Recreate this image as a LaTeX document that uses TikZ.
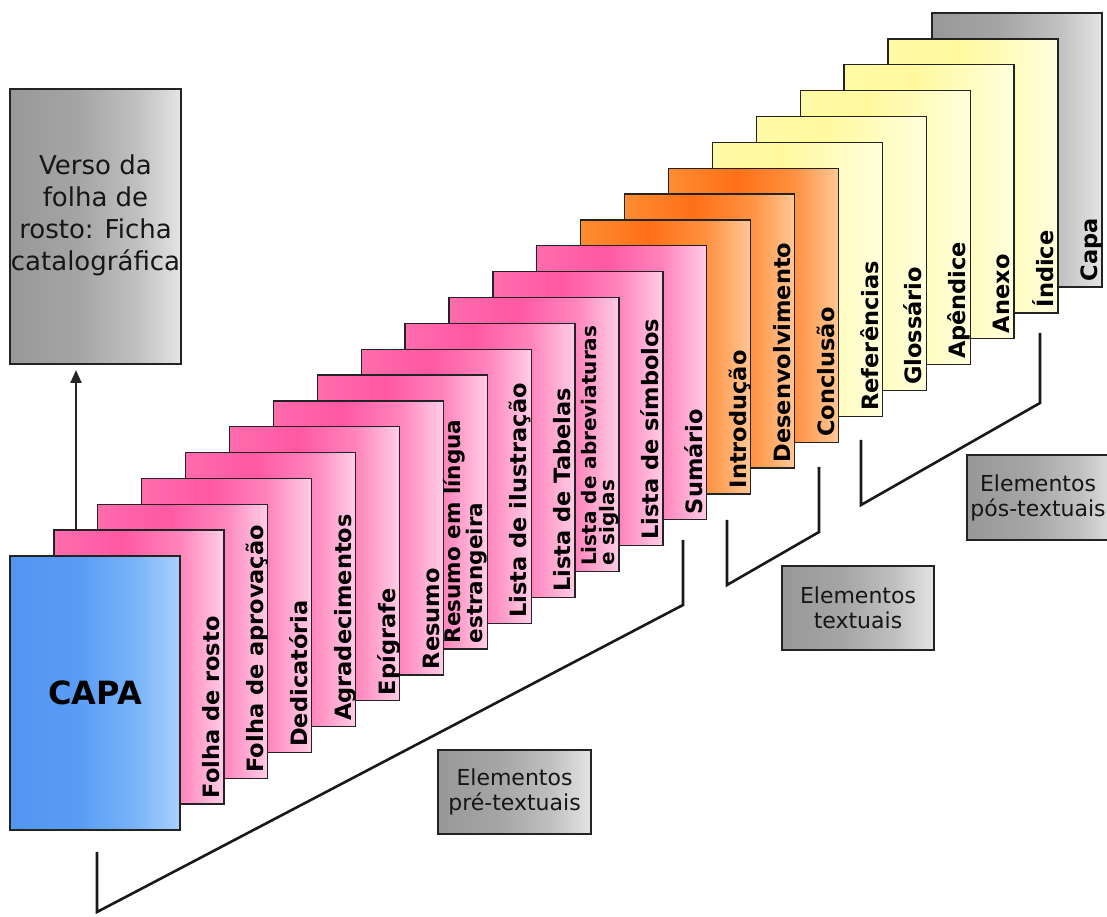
\documentclass[tikz,border=0pt]{standalone}
\usepackage{fontspec}
\setmainfont{DejaVu Sans}
\usetikzlibrary{calc,arrows.meta}

\definecolor{pk0}{RGB}{255,108,172}\definecolor{pk1}{RGB}{255,88,162}\definecolor{pk2}{RGB}{255,132,188}\definecolor{pk3}{RGB}{255,205,231}
\definecolor{or0}{RGB}{255,140,50}\definecolor{or1}{RGB}{255,112,22}\definecolor{or2}{RGB}{255,145,65}\definecolor{or3}{RGB}{255,200,150}
\definecolor{ye0}{RGB}{255,250,165}\definecolor{ye1}{RGB}{255,249,158}\definecolor{ye2}{RGB}{255,252,192}\definecolor{ye3}{RGB}{255,255,222}
\definecolor{gr0}{RGB}{152,152,152}\definecolor{gr1}{RGB}{165,165,165}\definecolor{gr2}{RGB}{192,192,192}\definecolor{gr3}{RGB}{228,228,228}
\definecolor{bl0}{RGB}{82,150,242}\definecolor{bl1}{RGB}{88,156,245}\definecolor{bl2}{RGB}{122,180,250}\definecolor{bl3}{RGB}{170,208,252}
\definecolor{pgborder}{RGB}{35,35,35}
\definecolor{txtdark}{RGB}{22,22,22}

\pgfdeclarehorizontalshading{pinksh}{100bp}{color(0bp)=(pk0); color(25bp)=(pk0); color(45bp)=(pk1); color(62bp)=(pk2); color(75bp)=(pk3); color(100bp)=(pk3)}
\pgfdeclarehorizontalshading{orangesh}{100bp}{color(0bp)=(or0); color(25bp)=(or0); color(45bp)=(or1); color(62bp)=(or2); color(75bp)=(or3); color(100bp)=(or3)}
\pgfdeclarehorizontalshading{yellowsh}{100bp}{color(0bp)=(ye0); color(25bp)=(ye0); color(45bp)=(ye1); color(62bp)=(ye2); color(75bp)=(ye3); color(100bp)=(ye3)}
\pgfdeclarehorizontalshading{graysh}{100bp}{color(0bp)=(gr0); color(25bp)=(gr0); color(45bp)=(gr1); color(62bp)=(gr2); color(75bp)=(gr3); color(100bp)=(gr3)}
\pgfdeclarehorizontalshading{bluesh}{100bp}{color(0bp)=(bl0); color(25bp)=(bl0); color(45bp)=(bl1); color(62bp)=(bl2); color(75bp)=(bl3); color(100bp)=(bl3)}

\tikzset{
  pagebox/.style={draw=pgborder, line width=1.3pt, minimum width=170pt, minimum height=274pt, inner sep=0pt, outer sep=0pt},
  pinkpg/.style={pagebox, shading=pinksh},
  orangepg/.style={pagebox, shading=orangesh},
  yellowpg/.style={pagebox, shading=yellowsh},
  graypg/.style={pagebox, shading=graysh},
  bluepg/.style={pagebox, shading=bluesh},
  plabel/.style={rotate=90, anchor=south west, inner sep=0pt, align=left, text depth=5.4pt,
    font=\bfseries\fontsize{22.5}{22.5}\selectfont, text=black},
  plabeltwo/.style={plabel, font=\bfseries\fontsize{21.5}{20}\selectfont},
  groupbox/.style={draw=pgborder, line width=1.3pt, shading=graysh, minimum width=153pt, minimum height=84pt,
    inner sep=0pt, align=center, text=txtdark, font=\fontsize{22}{25}\selectfont},
  grouptext/.style={inner sep=0pt, align=center, text=txtdark, font=\fontsize{22}{25}\selectfont},
  bracket/.style={draw=black!90, line width=2.6pt, line join=miter},
  uparrow/.style={draw=black!85, line width=2.2pt, -{Triangle[length=13pt,width=11pt]}, shorten >=6pt}
}

\begin{document}
\begin{tikzpicture}[x=1pt,y=1pt]
\useasboundingbox (0,0) rectangle (1107,917);
\fill[white] (0,0) rectangle (1107,917);
\clip (0,0) rectangle (1107,917);

% pages, from back to front
\foreach \i/\s in {21/graypg,20/yellowpg,19/yellowpg,18/yellowpg,17/yellowpg,16/yellowpg,
  15/orangepg,14/orangepg,13/orangepg,12/pinkpg,11/pinkpg,10/pinkpg,9/pinkpg,8/pinkpg,7/pinkpg,
  6/pinkpg,5/pinkpg,4/pinkpg,3/pinkpg,2/pinkpg,1/pinkpg}
  \node[\s] (p\i) at ({95+43.9*\i},{224+25.85*\i}) {};
\node[bluepg, font=\bfseries\fontsize{32}{32}\selectfont, text=black] (p0) at (95,224) {CAPA};

% page labels
\foreach \i/\t in {1/Folha de rosto,2/Folha de aprovação,3/Dedicatória,4/Agradecimentos,5/Epígrafe,
  6/Resumo,8/Lista de ilustração,9/Lista de Tabelas,11/Lista de símbolos,12/Sumário,
  13/Introdução,14/Desenvolvimento,15/Conclusão,16/Referências,17/Glossário,18/Apêndice,
  19/Anexo,20/Índice,21/Capa}
  \node[plabel] (l\i) at ($(p\i.south east)+(1.2,5.5)$) {\t};
\node[plabeltwo] (l7) at ($(p7.south east)+(1.2,5.5)$) {Resumo em língua\\estrangeira};
\node[plabeltwo, font=\bfseries\fontsize{20}{18}\selectfont] (l10) at ($(p10.south east)+(1.2,5.5)$) {Lista de abreviaturas\\e siglas};

% verso box and arrow
\node[graypg, minimum width=171pt, minimum height=275pt] (verso) at (95.5,690.5) {};
\node[anchor=north, inner sep=0pt, align=center, text=txtdark, font=\fontsize{26}{31.7}\selectfont]
  (versotext) at ($(verso.north)+(0,-66)$) {Verso da\\folha de\\rosto: Ficha\\catalográfica};
\coordinate (arrstart) at ($(p1.north west)!0.13!(p1.north east)$);
\draw[uparrow] (arrstart) -- (arrstart |- verso.south);

% group boxes
\node[groupbox] (pre) at (514.5,125) {Elementos\\pré-textuais};
\node[groupbox, minimum width=152pt] (txt) at (858,309) {Elementos\\textuais};
\node[groupbox, minimum width=152pt, minimum height=85pt] (pos) at (1043,419.5) {};
\node[grouptext] (postext) at ($(pos.center)+(-5,0)$) {Elementos\\pós-textuais};

% brackets
\coordinate (b1a) at (97,65);  \coordinate (b1b) at (97,5);
\coordinate (b1c) at (683,312); \coordinate (b1d) at (683,377);
\draw[bracket] (b1a) -- (b1b) -- (b1c) -- (b1d);
\coordinate (b2a) at (727,397); \coordinate (b2b) at (727,332);
\coordinate (b2c) at (819,385); \coordinate (b2d) at (819,450);
\draw[bracket] (b2a) -- (b2b) -- (b2c) -- (b2d);
\coordinate (b3a) at (861,477); \coordinate (b3b) at (861,412);
\coordinate (b3c) at (1040,514); \coordinate (b3d) at (1040,584);
\draw[bracket] (b3a) -- (b3b) -- (b3c) -- (b3d);
\end{tikzpicture}
\end{document}
